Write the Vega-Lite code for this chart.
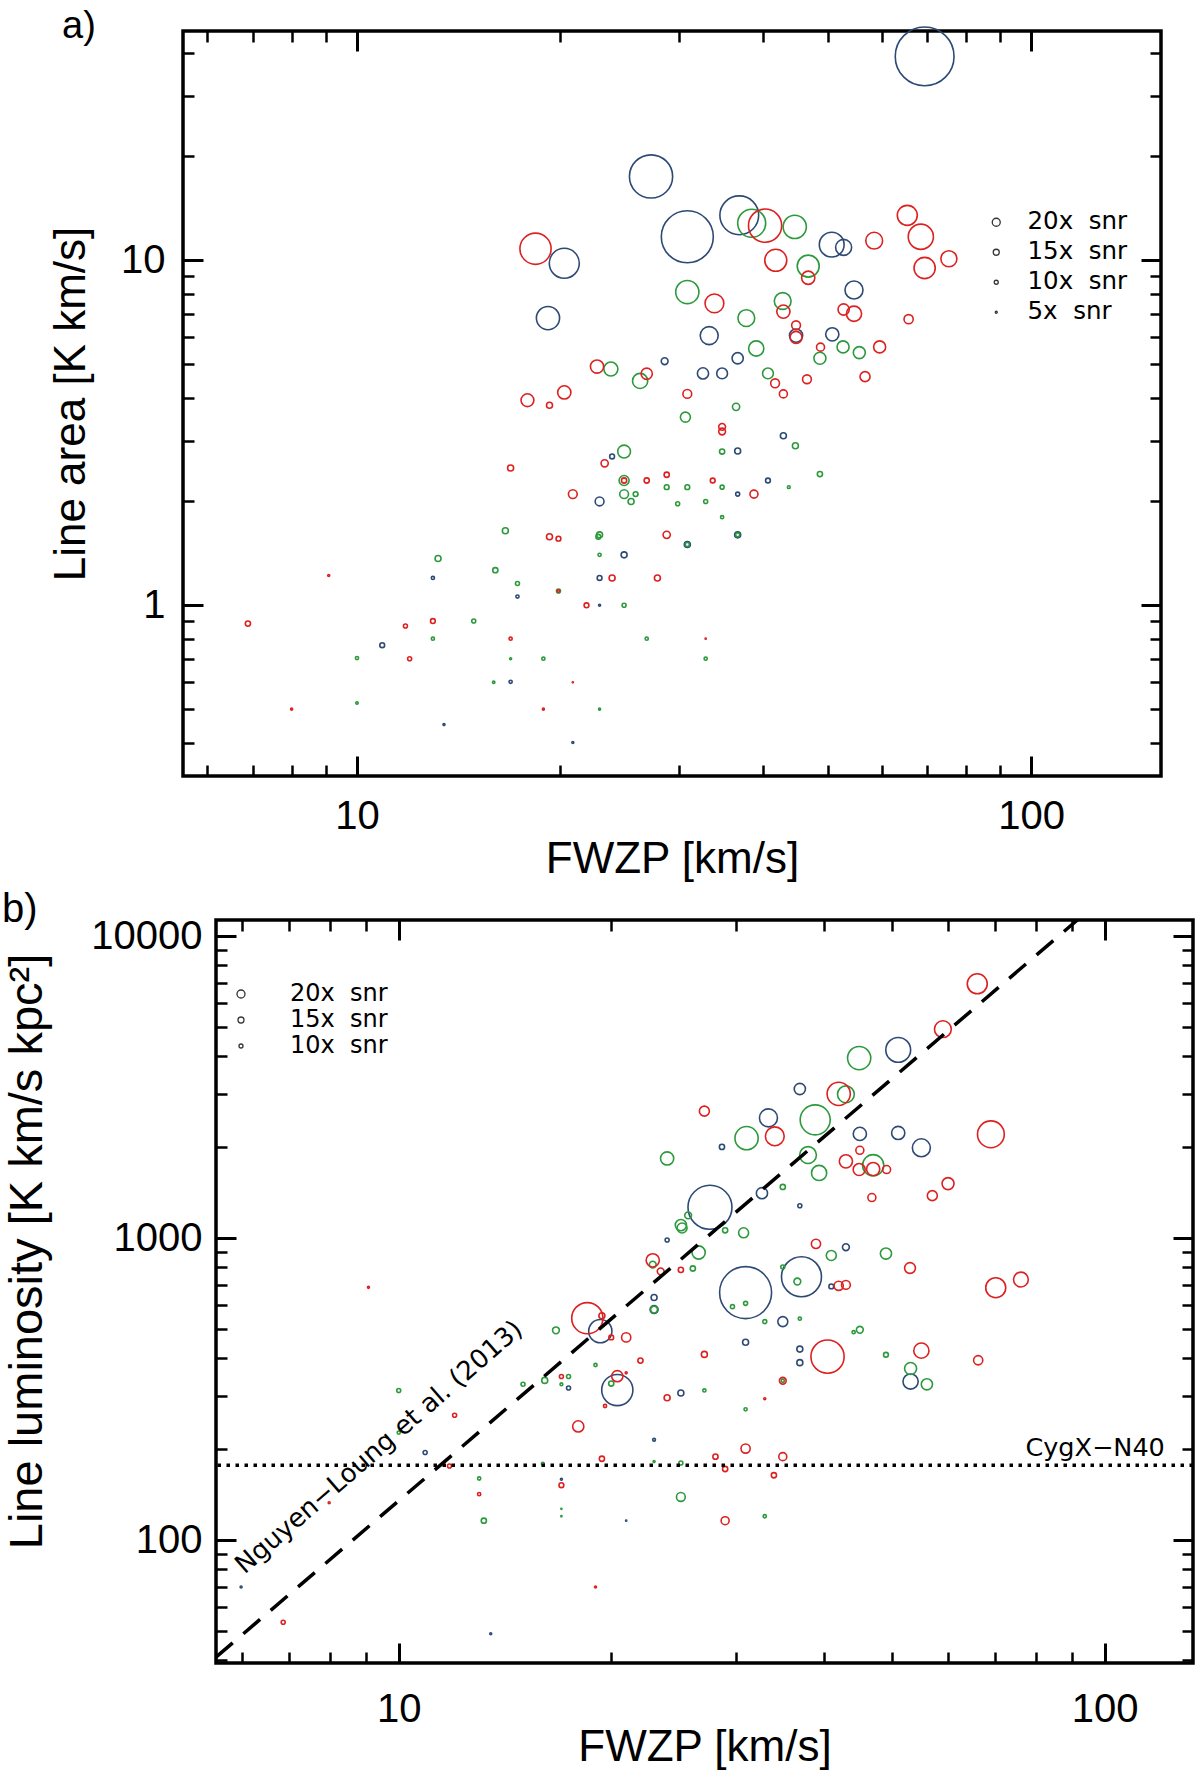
{
  "$schema": "https://vega.github.io/schema/vega-lite/v6.json",
  "autosize": {"type": "none"},
  "padding": {"left": 183, "top": 31, "right": 1017, "bottom": 1747},
  "background": "white",
  "config": {
    "font": "Liberation Sans",
    "axis": {
      "grid": false, "domain": false, "tickColor": "black", "labelColor": "black", "titleColor": "black",
      "labelFont": "Liberation Sans", "titleFont": "Liberation Sans", "labelFontSize": 40, "titleFontSize": 44,
      "titleFontWeight": "normal", "labelFlush": false, "labelOverlap": false, "labelBound": false
    }
  },
  "datasets": {
    "panel_a": [
      {"fwzp": 69.5, "area": 39.0, "snr": 147, "tracer": "t3"},
      {"fwzp": 27.3, "area": 17.5, "snr": 108, "tracer": "t3"},
      {"fwzp": 30.9, "area": 11.7, "snr": 130, "tracer": "t3"},
      {"fwzp": 36.9, "area": 13.5, "snr": 97, "tracer": "t3"},
      {"fwzp": 20.3, "area": 9.8, "snr": 75, "tracer": "t3"},
      {"fwzp": 19.2, "area": 6.8, "snr": 58, "tracer": "t3"},
      {"fwzp": 50.6, "area": 11.1, "snr": 62, "tracer": "t3"},
      {"fwzp": 52.7, "area": 10.9, "snr": 40, "tracer": "t3"},
      {"fwzp": 54.6, "area": 8.2, "snr": 45, "tracer": "t3"},
      {"fwzp": 33.3, "area": 6.05, "snr": 45, "tracer": "t3"},
      {"fwzp": 44.8, "area": 6.05, "snr": 33, "tracer": "t3"},
      {"fwzp": 50.7, "area": 6.1, "snr": 33, "tracer": "t3"},
      {"fwzp": 36.7, "area": 5.2, "snr": 28, "tracer": "t3"},
      {"fwzp": 32.6, "area": 4.7, "snr": 28, "tracer": "t3"},
      {"fwzp": 34.8, "area": 4.7, "snr": 27, "tracer": "t3"},
      {"fwzp": 28.6, "area": 5.1, "snr": 17, "tracer": "t3"},
      {"fwzp": 42.9, "area": 3.1, "snr": 15, "tracer": "t3"},
      {"fwzp": 36.7, "area": 2.8, "snr": 15, "tracer": "t3"},
      {"fwzp": 40.7, "area": 2.3, "snr": 12, "tracer": "t3"},
      {"fwzp": 36.7, "area": 2.1, "snr": 10, "tracer": "t3"},
      {"fwzp": 36.7, "area": 1.6, "snr": 15, "tracer": "t3"},
      {"fwzp": 23.9, "area": 2.7, "snr": 12, "tracer": "t3"},
      {"fwzp": 22.9, "area": 2.0, "snr": 22, "tracer": "t3"},
      {"fwzp": 30.9, "area": 1.5, "snr": 15, "tracer": "t3"},
      {"fwzp": 24.9, "area": 1.4, "snr": 15, "tracer": "t3"},
      {"fwzp": 12.96, "area": 1.2, "snr": 8, "tracer": "t3"},
      {"fwzp": 22.9, "area": 1.2, "snr": 12, "tracer": "t3"},
      {"fwzp": 17.3, "area": 1.06, "snr": 8, "tracer": "t3"},
      {"fwzp": 22.9, "area": 1.0, "snr": 5, "tracer": "t3"},
      {"fwzp": 10.9, "area": 0.766, "snr": 12, "tracer": "t3"},
      {"fwzp": 16.9, "area": 0.6, "snr": 8, "tracer": "t3"},
      {"fwzp": 13.46, "area": 0.451, "snr": 5, "tracer": "t3"},
      {"fwzp": 20.9, "area": 0.4, "snr": 5, "tracer": "t3"},
      {"fwzp": 38.5, "area": 12.8, "snr": 70, "tracer": "t2"},
      {"fwzp": 44.6, "area": 12.5, "snr": 58, "tracer": "t2"},
      {"fwzp": 30.9, "area": 8.09, "snr": 58, "tracer": "t2"},
      {"fwzp": 46.7, "area": 9.62, "snr": 55, "tracer": "t2"},
      {"fwzp": 42.8, "area": 7.62, "snr": 42, "tracer": "t2"},
      {"fwzp": 37.8, "area": 6.8, "snr": 42, "tracer": "t2"},
      {"fwzp": 39.1, "area": 5.55, "snr": 38, "tracer": "t2"},
      {"fwzp": 48.6, "area": 5.2, "snr": 30, "tracer": "t2"},
      {"fwzp": 52.6, "area": 5.61, "snr": 30, "tracer": "t2"},
      {"fwzp": 55.6, "area": 5.4, "snr": 30, "tracer": "t2"},
      {"fwzp": 40.7, "area": 4.7, "snr": 27, "tracer": "t2"},
      {"fwzp": 23.8, "area": 4.84, "snr": 35, "tracer": "t2"},
      {"fwzp": 26.3, "area": 4.47, "snr": 38, "tracer": "t2"},
      {"fwzp": 30.7, "area": 3.51, "snr": 25, "tracer": "t2"},
      {"fwzp": 36.5, "area": 3.76, "snr": 18, "tracer": "t2"},
      {"fwzp": 24.9, "area": 2.79, "snr": 32, "tracer": "t2"},
      {"fwzp": 44.7, "area": 2.9, "snr": 15, "tracer": "t2"},
      {"fwzp": 34.8, "area": 2.79, "snr": 13, "tracer": "t2"},
      {"fwzp": 48.6, "area": 2.4, "snr": 13, "tracer": "t2"},
      {"fwzp": 24.9, "area": 2.3, "snr": 25, "tracer": "t2"},
      {"fwzp": 28.8, "area": 2.2, "snr": 12, "tracer": "t2"},
      {"fwzp": 30.9, "area": 2.2, "snr": 12, "tracer": "t2"},
      {"fwzp": 34.8, "area": 2.2, "snr": 10, "tracer": "t2"},
      {"fwzp": 43.7, "area": 2.2, "snr": 7, "tracer": "t2"},
      {"fwzp": 24.9, "area": 2.1, "snr": 22, "tracer": "t2"},
      {"fwzp": 25.9, "area": 2.1, "snr": 12, "tracer": "t2"},
      {"fwzp": 25.5, "area": 2.0, "snr": 15, "tracer": "t2"},
      {"fwzp": 29.9, "area": 1.97, "snr": 10, "tracer": "t2"},
      {"fwzp": 32.9, "area": 2.0, "snr": 10, "tracer": "t2"},
      {"fwzp": 34.8, "area": 1.8, "snr": 8, "tracer": "t2"},
      {"fwzp": 16.6, "area": 1.645, "snr": 15, "tracer": "t2"},
      {"fwzp": 22.9, "area": 1.6, "snr": 15, "tracer": "t2"},
      {"fwzp": 22.8, "area": 1.58, "snr": 12, "tracer": "t2"},
      {"fwzp": 30.9, "area": 1.5, "snr": 10, "tracer": "t2"},
      {"fwzp": 36.7, "area": 1.6, "snr": 10, "tracer": "t2"},
      {"fwzp": 22.9, "area": 1.4, "snr": 8, "tracer": "t2"},
      {"fwzp": 13.19, "area": 1.366, "snr": 15, "tracer": "t2"},
      {"fwzp": 16.04, "area": 1.264, "snr": 13, "tracer": "t2"},
      {"fwzp": 17.3, "area": 1.156, "snr": 10, "tracer": "t2"},
      {"fwzp": 19.9, "area": 1.1, "snr": 10, "tracer": "t2"},
      {"fwzp": 24.9, "area": 1.0, "snr": 10, "tracer": "t2"},
      {"fwzp": 14.9, "area": 0.9, "snr": 10, "tracer": "t2"},
      {"fwzp": 12.96, "area": 0.8, "snr": 8, "tracer": "t2"},
      {"fwzp": 26.9, "area": 0.8, "snr": 8, "tracer": "t2"},
      {"fwzp": 10.0, "area": 0.703, "snr": 8, "tracer": "t2"},
      {"fwzp": 16.9, "area": 0.7, "snr": 5, "tracer": "t2"},
      {"fwzp": 18.9, "area": 0.7, "snr": 8, "tracer": "t2"},
      {"fwzp": 32.9, "area": 0.7, "snr": 8, "tracer": "t2"},
      {"fwzp": 15.95, "area": 0.598, "snr": 6, "tracer": "t2"},
      {"fwzp": 10.0, "area": 0.521, "snr": 6, "tracer": "t2"},
      {"fwzp": 22.9, "area": 0.5, "snr": 5, "tracer": "t2"},
      {"fwzp": 18.4, "area": 10.8, "snr": 78, "tracer": "t1"},
      {"fwzp": 40.3, "area": 12.6, "snr": 83, "tracer": "t1"},
      {"fwzp": 58.5, "area": 11.4, "snr": 42, "tracer": "t1"},
      {"fwzp": 65.5, "area": 13.5, "snr": 50, "tracer": "t1"},
      {"fwzp": 68.6, "area": 11.7, "snr": 63, "tracer": "t1"},
      {"fwzp": 69.5, "area": 9.5, "snr": 53, "tracer": "t1"},
      {"fwzp": 75.5, "area": 10.1, "snr": 40, "tracer": "t1"},
      {"fwzp": 41.8, "area": 10.0, "snr": 55, "tracer": "t1"},
      {"fwzp": 46.7, "area": 8.9, "snr": 33, "tracer": "t1"},
      {"fwzp": 33.9, "area": 7.5, "snr": 47, "tracer": "t1"},
      {"fwzp": 42.9, "area": 7.1, "snr": 33, "tracer": "t1"},
      {"fwzp": 52.7, "area": 7.2, "snr": 28, "tracer": "t1"},
      {"fwzp": 54.6, "area": 7.0, "snr": 38, "tracer": "t1"},
      {"fwzp": 65.8, "area": 6.75, "snr": 23, "tracer": "t1"},
      {"fwzp": 44.8, "area": 6.48, "snr": 22, "tracer": "t1"},
      {"fwzp": 44.8, "area": 5.98, "snr": 30, "tracer": "t1"},
      {"fwzp": 48.7, "area": 5.6, "snr": 20, "tracer": "t1"},
      {"fwzp": 59.6, "area": 5.61, "snr": 30, "tracer": "t1"},
      {"fwzp": 41.7, "area": 4.4, "snr": 22, "tracer": "t1"},
      {"fwzp": 46.5, "area": 4.52, "snr": 22, "tracer": "t1"},
      {"fwzp": 56.7, "area": 4.6, "snr": 25, "tracer": "t1"},
      {"fwzp": 42.9, "area": 4.1, "snr": 20, "tracer": "t1"},
      {"fwzp": 34.8, "area": 3.29, "snr": 17, "tracer": "t1"},
      {"fwzp": 34.8, "area": 3.19, "snr": 17, "tracer": "t1"},
      {"fwzp": 33.7, "area": 2.3, "snr": 12, "tracer": "t1"},
      {"fwzp": 38.8, "area": 2.1, "snr": 20, "tracer": "t1"},
      {"fwzp": 32.9, "area": 0.8, "snr": 3, "tracer": "t1"},
      {"fwzp": 22.7, "area": 4.92, "snr": 33, "tracer": "t1"},
      {"fwzp": 26.9, "area": 4.69, "snr": 28, "tracer": "t1"},
      {"fwzp": 17.9, "area": 3.93, "snr": 32, "tracer": "t1"},
      {"fwzp": 19.3, "area": 3.8, "snr": 15, "tracer": "t1"},
      {"fwzp": 20.3, "area": 4.14, "snr": 33, "tracer": "t1"},
      {"fwzp": 30.9, "area": 4.1, "snr": 22, "tracer": "t1"},
      {"fwzp": 16.9, "area": 2.5, "snr": 15, "tracer": "t1"},
      {"fwzp": 23.3, "area": 2.58, "snr": 18, "tracer": "t1"},
      {"fwzp": 24.9, "area": 2.3, "snr": 13, "tracer": "t1"},
      {"fwzp": 26.9, "area": 2.3, "snr": 13, "tracer": "t1"},
      {"fwzp": 28.8, "area": 2.39, "snr": 13, "tracer": "t1"},
      {"fwzp": 20.9, "area": 2.1, "snr": 22, "tracer": "t1"},
      {"fwzp": 19.3, "area": 1.58, "snr": 15, "tracer": "t1"},
      {"fwzp": 19.9, "area": 1.56, "snr": 12, "tracer": "t1"},
      {"fwzp": 28.8, "area": 1.6, "snr": 18, "tracer": "t1"},
      {"fwzp": 9.08, "area": 1.22, "snr": 5, "tracer": "t1"},
      {"fwzp": 23.9, "area": 1.2, "snr": 15, "tracer": "t1"},
      {"fwzp": 27.9, "area": 1.2, "snr": 15, "tracer": "t1"},
      {"fwzp": 19.9, "area": 1.1, "snr": 6, "tracer": "t1"},
      {"fwzp": 21.9, "area": 1.0, "snr": 12, "tracer": "t1"},
      {"fwzp": 6.89, "area": 0.885, "snr": 13, "tracer": "t1"},
      {"fwzp": 11.8, "area": 0.871, "snr": 10, "tracer": "t1"},
      {"fwzp": 12.96, "area": 0.9, "snr": 12, "tracer": "t1"},
      {"fwzp": 16.9, "area": 0.8, "snr": 8, "tracer": "t1"},
      {"fwzp": 11.97, "area": 0.7, "snr": 10, "tracer": "t1"},
      {"fwzp": 20.9, "area": 0.598, "snr": 3, "tracer": "t1"},
      {"fwzp": 8.0, "area": 0.5, "snr": 5, "tracer": "t1"},
      {"fwzp": 18.9, "area": 0.5, "snr": 5, "tracer": "t1"}
    ],
    "panel_b": [
      {"fwzp": 51.0, "lum": 4198, "snr": 62, "tracer": "t3"},
      {"fwzp": 37.0, "lum": 3116, "snr": 28, "tracer": "t3"},
      {"fwzp": 33.4, "lum": 2500, "snr": 45, "tracer": "t3"},
      {"fwzp": 45.0, "lum": 2213, "snr": 33, "tracer": "t3"},
      {"fwzp": 51.0, "lum": 2229, "snr": 33, "tracer": "t3"},
      {"fwzp": 55.0, "lum": 1990, "snr": 45, "tracer": "t3"},
      {"fwzp": 28.7, "lum": 2004, "snr": 13, "tracer": "t3"},
      {"fwzp": 32.7, "lum": 1408, "snr": 28, "tracer": "t3"},
      {"fwzp": 27.6, "lum": 1265, "snr": 110, "tracer": "t3"},
      {"fwzp": 37.0, "lum": 1279, "snr": 10, "tracer": "t3"},
      {"fwzp": 24.0, "lum": 985, "snr": 10, "tracer": "t3"},
      {"fwzp": 43.0, "lum": 933, "snr": 17, "tracer": "t3"},
      {"fwzp": 31.0, "lum": 660, "snr": 130, "tracer": "t3"},
      {"fwzp": 37.2, "lum": 745, "snr": 100, "tracer": "t3"},
      {"fwzp": 41.0, "lum": 692, "snr": 12, "tracer": "t3"},
      {"fwzp": 23.0, "lum": 636, "snr": 15, "tracer": "t3"},
      {"fwzp": 23.0, "lum": 580, "snr": 20, "tracer": "t3"},
      {"fwzp": 19.3, "lum": 492, "snr": 58, "tracer": "t3"},
      {"fwzp": 35.0, "lum": 529, "snr": 25, "tracer": "t3"},
      {"fwzp": 31.0, "lum": 452, "snr": 15, "tracer": "t3"},
      {"fwzp": 37.0, "lum": 429, "snr": 15, "tracer": "t3"},
      {"fwzp": 37.0, "lum": 387, "snr": 15, "tracer": "t3"},
      {"fwzp": 53.1, "lum": 335, "snr": 38, "tracer": "t3"},
      {"fwzp": 20.4, "lum": 314, "snr": 78, "tracer": "t3"},
      {"fwzp": 17.4, "lum": 319, "snr": 10, "tracer": "t3"},
      {"fwzp": 25.1, "lum": 307, "snr": 15, "tracer": "t3"},
      {"fwzp": 23.0, "lum": 215, "snr": 7, "tracer": "t3"},
      {"fwzp": 10.9, "lum": 195, "snr": 10, "tracer": "t3"},
      {"fwzp": 17.0, "lum": 159, "snr": 5, "tracer": "t3"},
      {"fwzp": 21.0, "lum": 116, "snr": 3, "tracer": "t3"},
      {"fwzp": 5.98, "lum": 70, "snr": 5, "tracer": "t3"},
      {"fwzp": 13.5, "lum": 49, "snr": 5, "tracer": "t3"},
      {"fwzp": 44.9, "lum": 3944, "snr": 58, "tracer": "t2"},
      {"fwzp": 43.0, "lum": 2992, "snr": 42, "tracer": "t2"},
      {"fwzp": 38.9, "lum": 2463, "snr": 75, "tracer": "t2"},
      {"fwzp": 31.1, "lum": 2142, "snr": 58, "tracer": "t2"},
      {"fwzp": 38.0, "lum": 1883, "snr": 42, "tracer": "t2"},
      {"fwzp": 47.0, "lum": 1743, "snr": 53, "tracer": "t2"},
      {"fwzp": 39.4, "lum": 1643, "snr": 38, "tracer": "t2"},
      {"fwzp": 24.0, "lum": 1835, "snr": 33, "tracer": "t2"},
      {"fwzp": 35.0, "lum": 1477, "snr": 13, "tracer": "t2"},
      {"fwzp": 25.7, "lum": 1189, "snr": 17, "tracer": "t2"},
      {"fwzp": 25.1, "lum": 1104, "snr": 28, "tracer": "t2"},
      {"fwzp": 25.2, "lum": 1080, "snr": 25, "tracer": "t2"},
      {"fwzp": 29.0, "lum": 1061, "snr": 13, "tracer": "t2"},
      {"fwzp": 30.8, "lum": 1041, "snr": 25, "tracer": "t2"},
      {"fwzp": 26.6, "lum": 896, "snr": 33, "tracer": "t2"},
      {"fwzp": 41.0, "lum": 876, "snr": 25, "tracer": "t2"},
      {"fwzp": 49.0, "lum": 889, "snr": 28, "tracer": "t2"},
      {"fwzp": 22.9, "lum": 817, "snr": 17, "tracer": "t2"},
      {"fwzp": 26.1, "lum": 793, "snr": 13, "tracer": "t2"},
      {"fwzp": 35.0, "lum": 802, "snr": 10, "tracer": "t2"},
      {"fwzp": 36.7, "lum": 718, "snr": 17, "tracer": "t2"},
      {"fwzp": 29.7, "lum": 593, "snr": 10, "tracer": "t2"},
      {"fwzp": 31.0, "lum": 608, "snr": 10, "tracer": "t2"},
      {"fwzp": 23.0, "lum": 580, "snr": 17, "tracer": "t2"},
      {"fwzp": 33.0, "lum": 529, "snr": 10, "tracer": "t2"},
      {"fwzp": 37.0, "lum": 541, "snr": 8, "tracer": "t2"},
      {"fwzp": 16.7, "lum": 495, "snr": 17, "tracer": "t2"},
      {"fwzp": 45.0, "lum": 497, "snr": 17, "tracer": "t2"},
      {"fwzp": 44.1, "lum": 488, "snr": 8, "tracer": "t2"},
      {"fwzp": 49.0, "lum": 411, "snr": 12, "tracer": "t2"},
      {"fwzp": 19.0, "lum": 380, "snr": 8, "tracer": "t2"},
      {"fwzp": 53.1, "lum": 370, "snr": 30, "tracer": "t2"},
      {"fwzp": 56.0, "lum": 328, "snr": 28, "tracer": "t2"},
      {"fwzp": 35.0, "lum": 337, "snr": 8, "tracer": "t2"},
      {"fwzp": 20.0, "lum": 330, "snr": 13, "tracer": "t2"},
      {"fwzp": 17.4, "lum": 348, "snr": 10, "tracer": "t2"},
      {"fwzp": 17.0, "lum": 328, "snr": 7, "tracer": "t2"},
      {"fwzp": 16.1, "lum": 338, "snr": 15, "tracer": "t2"},
      {"fwzp": 15.0, "lum": 328, "snr": 10, "tracer": "t2"},
      {"fwzp": 10.0, "lum": 313, "snr": 10, "tracer": "t2"},
      {"fwzp": 27.1, "lum": 313, "snr": 8, "tracer": "t2"},
      {"fwzp": 31.0, "lum": 271, "snr": 8, "tracer": "t2"},
      {"fwzp": 10.0, "lum": 227, "snr": 8, "tracer": "t2"},
      {"fwzp": 16.0, "lum": 179, "snr": 7, "tracer": "t2"},
      {"fwzp": 23.0, "lum": 182, "snr": 5, "tracer": "t2"},
      {"fwzp": 25.1, "lum": 180, "snr": 10, "tracer": "t2"},
      {"fwzp": 13.0, "lum": 160, "snr": 8, "tracer": "t2"},
      {"fwzp": 25.1, "lum": 139, "snr": 22, "tracer": "t2"},
      {"fwzp": 17.0, "lum": 127, "snr": 3, "tracer": "t2"},
      {"fwzp": 17.0, "lum": 120, "snr": 3, "tracer": "t2"},
      {"fwzp": 13.2, "lum": 116, "snr": 13, "tracer": "t2"},
      {"fwzp": 33.0, "lum": 120, "snr": 8, "tracer": "t2"},
      {"fwzp": 66.0, "lum": 6950, "snr": 50, "tracer": "t1"},
      {"fwzp": 59.0, "lum": 4918, "snr": 42, "tracer": "t1"},
      {"fwzp": 42.0, "lum": 3003, "snr": 58, "tracer": "t1"},
      {"fwzp": 27.1, "lum": 2632, "snr": 25, "tracer": "t1"},
      {"fwzp": 34.1, "lum": 2173, "snr": 47, "tracer": "t1"},
      {"fwzp": 69.0, "lum": 2206, "snr": 67, "tracer": "t1"},
      {"fwzp": 45.0, "lum": 1953, "snr": 20, "tracer": "t1"},
      {"fwzp": 43.0, "lum": 1795, "snr": 33, "tracer": "t1"},
      {"fwzp": 44.9, "lum": 1686, "snr": 30, "tracer": "t1"},
      {"fwzp": 47.0, "lum": 1692, "snr": 33, "tracer": "t1"},
      {"fwzp": 49.1, "lum": 1686, "snr": 20, "tracer": "t1"},
      {"fwzp": 60.0, "lum": 1515, "snr": 30, "tracer": "t1"},
      {"fwzp": 57.0, "lum": 1382, "snr": 25, "tracer": "t1"},
      {"fwzp": 46.8, "lum": 1362, "snr": 20, "tracer": "t1"},
      {"fwzp": 39.0, "lum": 957, "snr": 23, "tracer": "t1"},
      {"fwzp": 22.9, "lum": 844, "snr": 33, "tracer": "t1"},
      {"fwzp": 23.5, "lum": 776, "snr": 17, "tracer": "t1"},
      {"fwzp": 25.1, "lum": 785, "snr": 13, "tracer": "t1"},
      {"fwzp": 53.0, "lum": 796, "snr": 27, "tracer": "t1"},
      {"fwzp": 42.0, "lum": 695, "snr": 23, "tracer": "t1"},
      {"fwzp": 43.0, "lum": 700, "snr": 22, "tracer": "t1"},
      {"fwzp": 70.1, "lum": 685, "snr": 50, "tracer": "t1"},
      {"fwzp": 76.1, "lum": 729, "snr": 37, "tracer": "t1"},
      {"fwzp": 9.06, "lum": 687, "snr": 5, "tracer": "t1"},
      {"fwzp": 18.5, "lum": 543, "snr": 78, "tracer": "t1"},
      {"fwzp": 19.4, "lum": 553, "snr": 15, "tracer": "t1"},
      {"fwzp": 20.0, "lum": 469, "snr": 12, "tracer": "t1"},
      {"fwzp": 21.0, "lum": 469, "snr": 23, "tracer": "t1"},
      {"fwzp": 55.0, "lum": 424, "snr": 38, "tracer": "t1"},
      {"fwzp": 40.5, "lum": 405, "snr": 83, "tracer": "t1"},
      {"fwzp": 22.0, "lum": 393, "snr": 13, "tracer": "t1"},
      {"fwzp": 27.1, "lum": 412, "snr": 15, "tracer": "t1"},
      {"fwzp": 66.2, "lum": 394, "snr": 23, "tracer": "t1"},
      {"fwzp": 20.4, "lum": 349, "snr": 28, "tracer": "t1"},
      {"fwzp": 21.0, "lum": 358, "snr": 5, "tracer": "t1"},
      {"fwzp": 17.0, "lum": 348, "snr": 10, "tracer": "t1"},
      {"fwzp": 35.0, "lum": 337, "snr": 17, "tracer": "t1"},
      {"fwzp": 24.0, "lum": 296, "snr": 15, "tracer": "t1"},
      {"fwzp": 33.0, "lum": 294, "snr": 5, "tracer": "t1"},
      {"fwzp": 19.6, "lum": 278, "snr": 8, "tracer": "t1"},
      {"fwzp": 12.0, "lum": 259, "snr": 10, "tracer": "t1"},
      {"fwzp": 17.96, "lum": 238, "snr": 28, "tracer": "t1"},
      {"fwzp": 31.0, "lum": 201, "snr": 23, "tracer": "t1"},
      {"fwzp": 19.4, "lum": 186, "snr": 13, "tracer": "t1"},
      {"fwzp": 28.1, "lum": 189, "snr": 13, "tracer": "t1"},
      {"fwzp": 35.0, "lum": 189, "snr": 20, "tracer": "t1"},
      {"fwzp": 11.8, "lum": 176, "snr": 10, "tracer": "t1"},
      {"fwzp": 29.0, "lum": 172, "snr": 13, "tracer": "t1"},
      {"fwzp": 34.0, "lum": 164, "snr": 13, "tracer": "t1"},
      {"fwzp": 17.0, "lum": 152, "snr": 12, "tracer": "t1"},
      {"fwzp": 13.0, "lum": 142, "snr": 8, "tracer": "t1"},
      {"fwzp": 7.97, "lum": 133, "snr": 5, "tracer": "t1"},
      {"fwzp": 29.0, "lum": 116, "snr": 20, "tracer": "t1"},
      {"fwzp": 19.0, "lum": 70, "snr": 5, "tracer": "t1"},
      {"fwzp": 6.86, "lum": 53.5, "snr": 10, "tracer": "t1"}
    ],
    "relation": [
      {"fwzp": 5.51, "lum": 41},
      {"fwzp": 91.5, "lum": 11300}
    ],
    "cygx_level": [
      {"lum": 177}
    ],
    "cygx": [
      {"fwzp": 121.7, "lum": 177, "label": "CygX−N40"}
    ],
    "nguyen": [
      {"fwzp": 9.38, "lum": 203, "label": "Nguyen−Loung et al. (2013)"}
    ]
  },
  "spacing": 144,
  "bounds": "flush",
  "resolve": {"scale": {"size": "independent", "color": "independent"}},
  "vconcat": [
    {
      "width": 978,
      "height": 745,
      "view": {"stroke": "black", "strokeWidth": 3.5},
      "title": {"text": "a)", "anchor": "start", "frame": "group", "orient": "top", "offset": 0, "baseline": "alphabetic", "dx": -121, "dy": 52, "fontSize": 38, "fontWeight": "normal", "font": "Liberation Sans", "color": "black"},
      "data": {"name": "panel_a"},
      "layer": [
        {
          "mark": {"type": "point", "shape": "circle", "filled": false, "strokeWidth": 1.6, "opacity": 1},
          "encoding": {
            "x": {"field": "fwzp", "type": "quantitative", "scale": {"type": "log", "domain": [5.52, 155.8], "nice": false},
              "axis": {"orient": "bottom", "values": [10, 100], "format": "d", "tickSize": -20, "tickWidth": 3, "labelPadding": 72, "labelBaseline": "alphabetic", "title": "FWZP [km/s]", "titleBaseline": "alphabetic", "titleY": 96}},
            "y": {"field": "area", "type": "quantitative", "scale": {"type": "log", "domain": [0.32, 46.2], "nice": false},
              "axis": {"orient": "left", "values": [1, 10], "format": "d", "tickSize": -20, "tickWidth": 3, "labelPadding": 38, "title": "Line area [K km/s]", "titleX": -90, "titleBaseline": "bottom"}},
            "color": {"field": "tracer", "type": "nominal", "scale": {"domain": ["t1", "t2", "t3"], "range": ["#dd2020", "#2c9a3c", "#2d4a75"]}, "legend": null},
            "size": {"field": "snr", "type": "quantitative", "scale": {"type": "pow", "exponent": 2, "domain": [0, 100], "range": [0, 1600]},
              "legend": {"values": [20, 15, 10, 5], "orient": "none", "legendX": 801, "legendY": 179, "title": null, "padding": 0,
                "labelExpr": "(datum.value < 10 ? '\u2007' : '') + datum.value + 'x\u00a0\u00a0snr'",
                "labelFont": "DejaVu Sans", "labelFontSize": 24.5, "labelColor": "black", "labelOffset": 19,
                "symbolType": "circle", "symbolFillColor": "transparent", "symbolStrokeColor": "#333333", "symbolStrokeWidth": 1.3, "rowPadding": 5}}
          }
        },
        {
          "mark": {"type": "point", "opacity": 0},
          "encoding": {
            "x": {"field": "fwzp", "type": "quantitative", "scale": {"type": "log", "domain": [5.52, 155.8], "nice": false},
              "axis": {"orient": "bottom", "values": [6, 7, 8, 9, 20, 30, 40, 50, 60, 70, 80, 90], "tickSize": -11, "tickWidth": 2.5, "labels": false, "title": null}},
            "y": {"field": "area", "type": "quantitative", "scale": {"type": "log", "domain": [0.32, 46.2], "nice": false},
              "axis": {"orient": "left", "values": [0.4, 0.5, 0.6, 0.7, 0.8, 0.9, 2, 3, 4, 5, 6, 7, 8, 9, 20, 30, 40], "tickSize": -11, "tickWidth": 2.5, "labels": false, "title": null}}
          }
        },
        {
          "mark": {"type": "point", "opacity": 0},
          "encoding": {
            "x": {"field": "fwzp", "type": "quantitative", "scale": {"type": "log", "domain": [5.52, 155.8], "nice": false},
              "axis": {"orient": "top", "values": [10, 100], "tickSize": -20, "tickWidth": 3, "labels": false, "title": null}},
            "y": {"field": "area", "type": "quantitative", "scale": {"type": "log", "domain": [0.32, 46.2], "nice": false},
              "axis": {"orient": "right", "values": [1, 10], "tickSize": -20, "tickWidth": 3, "labels": false, "title": null}}
          }
        },
        {
          "mark": {"type": "point", "opacity": 0},
          "encoding": {
            "x": {"field": "fwzp", "type": "quantitative", "scale": {"type": "log", "domain": [5.52, 155.8], "nice": false},
              "axis": {"orient": "top", "values": [6, 7, 8, 9, 20, 30, 40, 50, 60, 70, 80, 90], "tickSize": -11, "tickWidth": 2.5, "labels": false, "title": null}},
            "y": {"field": "area", "type": "quantitative", "scale": {"type": "log", "domain": [0.32, 46.2], "nice": false},
              "axis": {"orient": "right", "values": [0.4, 0.5, 0.6, 0.7, 0.8, 0.9, 2, 3, 4, 5, 6, 7, 8, 9, 20, 30, 40], "tickSize": -11, "tickWidth": 2.5, "labels": false, "title": null}}
          }
        }
      ],
      "resolve": {"axis": {"x": "independent", "y": "independent"}}
    },
    {
      "spacing": 0,
      "bounds": "flush",
      "hconcat": [
        {
          "width": 33,
          "height": 20,
          "view": {"stroke": null},
          "data": {"values": [{"k": 0}]},
          "mark": {"type": "point", "opacity": 0}
        },
        {
          "width": 977,
          "height": 743,
          "view": {"stroke": "black", "strokeWidth": 3.5},
          "title": {"text": "b)", "anchor": "start", "frame": "group", "orient": "top", "offset": 0, "baseline": "alphabetic", "dx": -214, "dy": 46, "fontSize": 40, "fontWeight": "normal", "font": "Liberation Sans", "color": "black"},
          "layer": [
            {
              "data": {"name": "panel_b"},
              "mark": {"type": "point", "shape": "circle", "filled": false, "strokeWidth": 1.6, "opacity": 1},
              "encoding": {
                "x": {"field": "fwzp", "type": "quantitative", "scale": {"type": "log", "domain": [5.51, 133.4], "nice": false},
                  "axis": {"orient": "bottom", "values": [10, 100], "format": "d", "tickSize": -20, "tickWidth": 3, "labelPadding": 78, "labelBaseline": "alphabetic", "title": "FWZP [km/s]", "titleBaseline": "alphabetic", "titleY": 97}},
                "y": {"field": "lum", "type": "quantitative", "scale": {"type": "log", "domain": [39.2, 11300], "nice": false},
                  "axis": {"orient": "left", "values": [100, 1000, 10000], "format": "d", "tickSize": -20, "tickWidth": 3, "labelPadding": 34, "title": "Line luminosity [K km/s kpc²]", "titleFontSize": 47, "titleX": -165, "titleY": 331, "titleBaseline": "bottom"}},
                "color": {"field": "tracer", "type": "nominal", "scale": {"domain": ["t1", "t2", "t3"], "range": ["#dd2020", "#2c9a3c", "#2d4a75"]}, "legend": null},
                "size": {"field": "snr", "type": "quantitative", "scale": {"type": "pow", "exponent": 2, "domain": [0, 100], "range": [0, 1600]},
                  "legend": {"values": [20, 15, 10], "orient": "none", "legendX": 46, "legendY": 62, "title": null, "padding": 0,
                    "labelExpr": "datum.value + 'x\u00a0\u00a0snr'",
                    "labelFont": "DejaVu Sans", "labelFontSize": 24, "labelColor": "black", "labelOffset": 37,
                    "symbolType": "circle", "symbolFillColor": "transparent", "symbolStrokeColor": "#333333", "symbolStrokeWidth": 1.3, "rowPadding": 2}}
              }
            },
            {
              "data": {"name": "panel_b"},
              "mark": {"type": "point", "opacity": 0},
              "encoding": {
                "x": {"field": "fwzp", "type": "quantitative", "scale": {"type": "log", "domain": [5.51, 133.4], "nice": false},
                  "axis": {"orient": "bottom", "values": [6, 7, 8, 9, 20, 30, 40, 50, 60, 70, 80, 90], "tickSize": -11, "tickWidth": 2.5, "labels": false, "title": null}},
                "y": {"field": "lum", "type": "quantitative", "scale": {"type": "log", "domain": [39.2, 11300], "nice": false},
                  "axis": {"orient": "left", "values": [40, 50, 60, 70, 80, 90, 200, 300, 400, 500, 600, 700, 800, 900, 2000, 3000, 4000, 5000, 6000, 7000, 8000, 9000], "tickSize": -11, "tickWidth": 2.5, "labels": false, "title": null}}
              }
            },
            {
              "data": {"name": "cygx_level"},
              "mark": {"type": "rule", "color": "black", "strokeWidth": 3.5, "strokeDash": [3.5, 5.5]},
              "encoding": {
                "y": {"field": "lum", "type": "quantitative", "scale": {"type": "log", "domain": [39.2, 11300], "nice": false}, "axis": null}
              }
            },
            {
              "data": {"name": "relation"},
              "mark": {"type": "line", "color": "black", "strokeWidth": 3.5, "strokeDash": [22, 14], "clip": true},
              "encoding": {
                "x": {"field": "fwzp", "type": "quantitative", "scale": {"type": "log", "domain": [5.51, 133.4], "nice": false},
                  "axis": {"orient": "top", "values": [10, 100], "tickSize": -20, "tickWidth": 3, "labels": false, "title": null}},
                "y": {"field": "lum", "type": "quantitative", "scale": {"type": "log", "domain": [39.2, 11300], "nice": false},
                  "axis": {"orient": "right", "values": [100, 1000, 10000], "tickSize": -20, "tickWidth": 3, "labels": false, "title": null}}
              }
            },
            {
              "data": {"name": "cygx"},
              "mark": {"type": "text", "align": "right", "baseline": "alphabetic", "dy": -9, "font": "DejaVu Sans", "fontSize": 25.5, "color": "black"},
              "encoding": {
                "x": {"field": "fwzp", "type": "quantitative", "scale": {"type": "log", "domain": [5.51, 133.4], "nice": false},
                  "axis": {"orient": "top", "values": [6, 7, 8, 9, 20, 30, 40, 50, 60, 70, 80, 90], "tickSize": -11, "tickWidth": 2.5, "labels": false, "title": null}},
                "y": {"field": "lum", "type": "quantitative", "scale": {"type": "log", "domain": [39.2, 11300], "nice": false},
                  "axis": {"orient": "right", "values": [40, 50, 60, 70, 80, 90, 200, 300, 400, 500, 600, 700, 800, 900, 2000, 3000, 4000, 5000, 6000, 7000, 8000, 9000], "tickSize": -11, "tickWidth": 2.5, "labels": false, "title": null}},
                "text": {"field": "label"}
              }
            },
            {
              "data": {"name": "nguyen"},
              "mark": {"type": "text", "align": "center", "baseline": "middle", "angle": 319, "font": "DejaVu Sans", "fontSize": 26, "color": "black"},
              "encoding": {
                "x": {"field": "fwzp", "type": "quantitative", "scale": {"type": "log", "domain": [5.51, 133.4], "nice": false}, "axis": null},
                "y": {"field": "lum", "type": "quantitative", "scale": {"type": "log", "domain": [39.2, 11300], "nice": false}, "axis": null},
                "text": {"field": "label"}
              }
            }
          ],
          "resolve": {"axis": {"x": "independent", "y": "independent"}}
        }
      ]
    }
  ]
}
